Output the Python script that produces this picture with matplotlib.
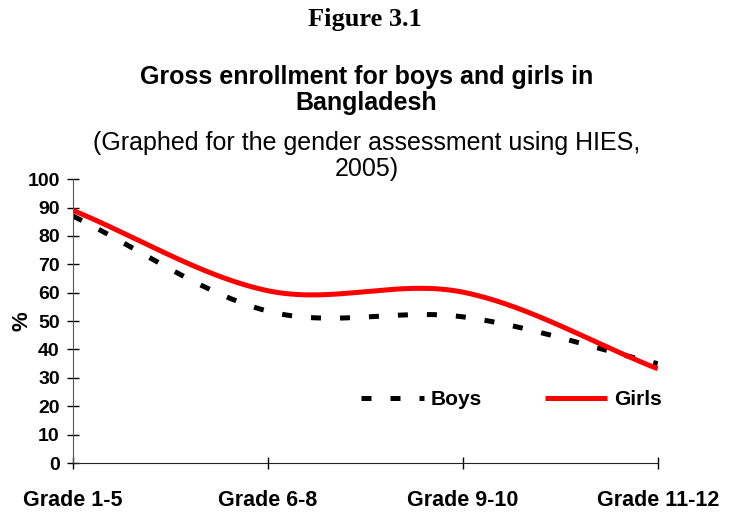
import numpy as np
import matplotlib
matplotlib.use('Agg')
import matplotlib.pyplot as plt

# data
grades = ['Grade 1-5', 'Grade 6-8', 'Grade 9-10', 'Grade 11-12']
boys = [87, 53.5, 51.5, 35]
girls = [89, 60.7, 60.2, 33.2]


def smooth(y, n=60):
    # Catmull-Rom curve through the points, like Excel's "smoothed line"
    y = np.asarray(y, dtype=float)
    p = np.concatenate([[2 * y[0] - y[1]], y, [2 * y[-1] - y[-2]]])
    xs, ys = [], []
    for i in range(len(y) - 1):
        p0, p1, p2, p3 = p[i], p[i + 1], p[i + 2], p[i + 3]
        m1 = (p2 - p0) / 2
        m2 = (p3 - p1) / 2
        t = np.linspace(0, 1, n)
        h00 = 2 * t**3 - 3 * t**2 + 1
        h10 = t**3 - 2 * t**2 + t
        h01 = -2 * t**3 + 3 * t**2
        h11 = t**3 - t**2
        xs.append(i + t)
        ys.append(h00 * p1 + h10 * m1 + h01 * p2 + h11 * m2)
    return np.concatenate(xs), np.concatenate(ys)


plt.rcParams['font.family'] = ['Liberation Sans', 'DejaVu Sans']

fig = plt.figure(figsize=(7.3, 5.12), dpi=100)
ax = fig.add_axes([0.1, 0.0957, 0.801, 0.5543])

bx, by = smooth(boys)
gx, gy = smooth(girls)
ax.plot(bx, by, color='black', lw=3.6, dashes=(2, 3.8), dash_capstyle='butt', label='Boys')
ax.plot(gx, gy, color='#ff0000', lw=3.6, solid_capstyle='butt', label='Girls')

ax.set_xlim(0, len(grades) - 1)
ax.set_ylim(0, 100)
ax.set_yticks(range(0, 101, 10))
ax.set_xticks(range(len(grades)))
ax.set_xticklabels(grades, fontsize=15.5, fontweight='bold')
ax.tick_params(axis='y', direction='inout', length=9, width=1, labelsize=14, pad=5)
ax.tick_params(axis='x', direction='inout', length=9, width=1, pad=15)
for lab in ax.get_yticklabels():
    lab.set_fontweight('bold')
ax.set_ylabel('%', fontsize=16, fontweight='bold', labelpad=-4)
for s in ['top', 'right']:
    ax.spines[s].set_visible(False)
ax.spines['left'].set_color('#555555')
ax.spines['bottom'].set_color('#222222')

ax.legend(loc='center', bbox_to_anchor=(0.75, 0.222), ncol=2, frameon=False,
          prop={'weight': 'bold', 'size': 15}, handlelength=3.0, handletextpad=0.35,
          columnspacing=3.0)

fig.text(0.5, 0.961, 'Figure 3.1', ha='center', va='center', fontsize=19,
         fontweight='bold', family=['Liberation Serif', 'DejaVu Serif'])
fig.text(0.502, 0.824, 'Gross enrollment for boys and girls in\nBangladesh', ha='center',
         va='center', fontsize=18, fontweight='bold', linespacing=1.1)
fig.text(0.502, 0.696, '(Graphed for the gender assessment using HIES,\n2005)', ha='center',
         va='center', fontsize=18, linespacing=1.1)

fig.savefig('out.png', dpi=100)
